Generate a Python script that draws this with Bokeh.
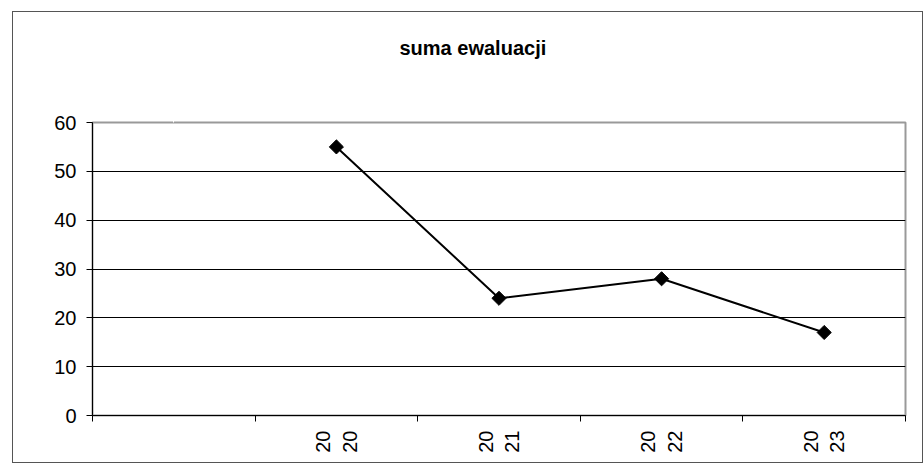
import numpy as np
from bokeh.plotting import figure
from bokeh.models import Range1d, FixedTicker, ColumnDataSource, LinearAxis
from bokeh.layouts import column
from bokeh.embed import file_html
from bokeh.resources import INLINE

# ---- data ----
title_text = "suma ewaluacji"
categories = ["2020", "2021", "2022", "2023"]
values = [55, 24, 28, 17]
leading_empty = 1            # one empty category slot before 2020
y_ticks = [0, 10, 20, 30, 40, 50, 60]

n_slots = leading_empty + len(categories)
xs = [leading_empty + i for i in range(len(categories))]
boundaries = [k - 0.5 for k in range(n_slots + 1)]
labels = {x: c[:2] + "\n" + c[2:] for x, c in zip(xs, categories)}

src = ColumnDataSource(dict(x=xs, y=values))

FONT = "Liberation Sans"

p = figure(width=909, height=450, output_backend="svg", toolbar_location=None,
           title=title_text,
           x_range=Range1d(-0.5, n_slots - 0.5), y_range=Range1d(0, 60),
           min_border_left=79, min_border_right=17, min_border_top=109,
           min_border_bottom=47)
p.background_fill_color = "white"
p.border_fill_color = "white"
p.outline_line_color = "#999999"
p.outline_line_width = 2

# invisible (white) spacer axis between the title and the plot frame
spacer = LinearAxis(ticker=FixedTicker(ticks=[leading_empty - 1]),
                    axis_line_color=None,
                    major_tick_line_color="white", minor_tick_line_color=None,
                    major_tick_out=41, major_tick_in=0, minor_tick_out=0,
                    minor_tick_in=0, major_label_standoff=0,
                    major_label_overrides={leading_empty - 1: ""},
                    major_label_text_color="white",
                    major_label_text_font_size="1px")
p.add_layout(spacer, "above")

p.title.align = "left"
p.title.offset = 307
p.title.standoff = 45
p.title.text_font = FONT
p.title.text_font_size = "20px"
p.title.text_font_style = "bold"
p.title.text_color = "black"

p.line("x", "y", source=src, line_color="black", line_width=2)
p.scatter("x", "y", source=src, marker="square", angle=np.pi / 4, size=10,
          fill_color="black", line_color="black")

# y axis
p.yaxis.ticker = FixedTicker(ticks=y_ticks)
p.yaxis.axis_line_color = "black"
p.yaxis.major_tick_out = 6
p.yaxis.major_tick_in = 0
p.yaxis.minor_tick_line_color = None
p.yaxis.major_label_standoff = 10
p.yaxis.major_label_text_font = FONT
p.yaxis.major_label_text_font_size = "20px"
p.yaxis.major_label_text_color = "black"

# x axis (bottom)
xaxis = p.below[0]
xaxis.ticker = FixedTicker(ticks=xs, minor_ticks=boundaries)
xaxis.major_label_overrides = labels
xaxis.major_label_orientation = np.pi / 2
xaxis.axis_line_color = "black"
xaxis.major_tick_line_color = None
xaxis.major_tick_out = 0
xaxis.major_tick_in = 0
xaxis.minor_tick_out = 6
xaxis.minor_tick_in = 0
xaxis.minor_tick_line_color = "black"
xaxis.major_label_standoff = 9
xaxis.major_label_text_font = FONT
xaxis.major_label_text_font_size = "20px"
xaxis.major_label_text_color = "black"

# grid
p.xgrid.grid_line_color = None
p.ygrid.ticker = FixedTicker(ticks=y_ticks[1:-1])
p.ygrid.grid_line_color = "black"
p.ygrid.grid_line_width = 1

layout = column(p, margin=(11, 0, 0, 12),
                styles={"border": "1px solid #555555"})

open("out.html", "w").write(file_html(layout, INLINE))
